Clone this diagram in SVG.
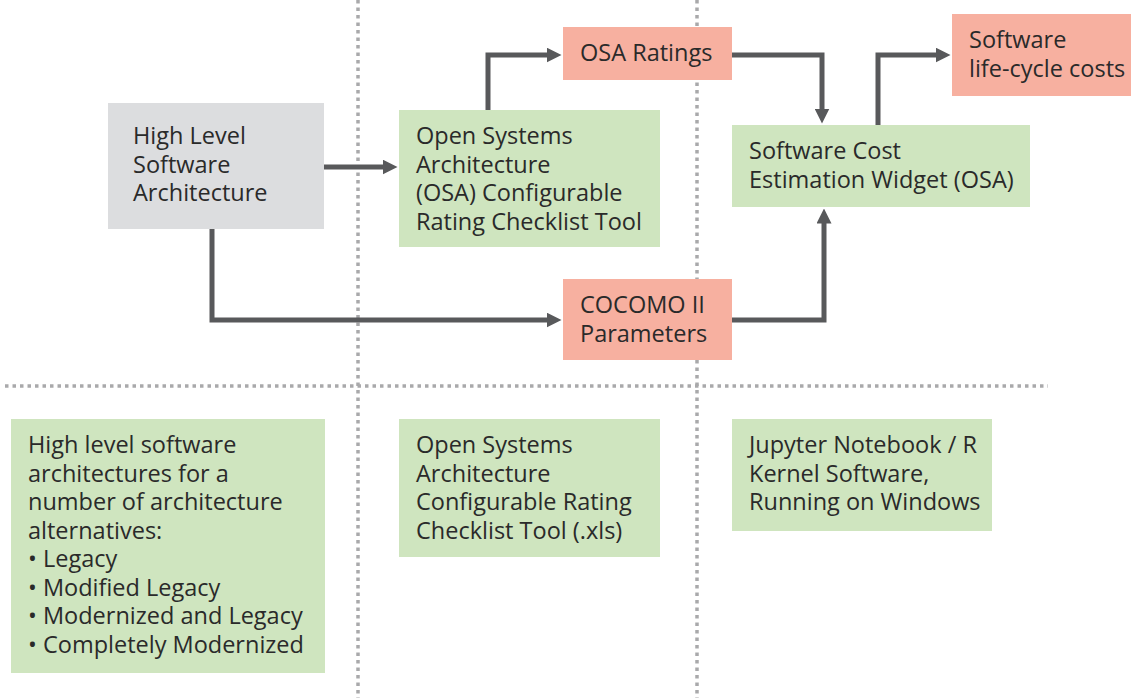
<svg xmlns="http://www.w3.org/2000/svg" width="1132" height="698" viewBox="0 0 1132 698">
  <style>
    .grid { stroke: #a9a9ab; stroke-width: 3.5; stroke-dasharray: 3.5 4; fill: none; }
    .gray { fill: #dcdddf; }
    .green { fill: #cfe5bf; }
    .salmon { fill: #f7b0a0; }
    text { font-family: "Open Sans", "Noto Sans", "Liberation Sans", sans-serif; font-size: 23.5px; fill: #2a2a2a; }
    .link { stroke: #58595b; stroke-width: 5; fill: none; marker-end: url(#arrow); }
  </style>
  <defs>
    <marker id="arrow" viewBox="0 0 10 10" refX="1" refY="5" markerUnits="userSpaceOnUse" markerWidth="15" markerHeight="15" orient="auto">
      <path d="M0,0 L10,5 L0,10 z" fill="#58595b"/>
    </marker>
  </defs>
  <rect width="1132" height="698" fill="#ffffff"/>

  <!-- column and row separators -->
  <g id="grid">
    <line class="grid" x1="358" y1="0" x2="358" y2="698"/>
    <line class="grid" x1="697" y1="0" x2="697" y2="698"/>
    <line class="grid" x1="5" y1="386" x2="1048" y2="386"/>
  </g>

  <!-- connectors -->
  <g id="connectors">
    <path class="link" d="M324,167 H384"/>
    <path class="link" d="M488,110 V55 H548"/>
    <path class="link" d="M732,55 H822 V110"/>
    <path class="link" d="M878,125 V55 H937"/>
    <path class="link" d="M212,229 V320 H548"/>
    <path class="link" d="M732,320 H824 V222"/>
  </g>

  <g id="high-level-architecture">
    <rect class="gray" x="108" y="103" width="216" height="126"/>
    <text x="133" y="144">High Level<tspan x="133" dy="28.5">Software</tspan><tspan x="133" dy="28.5">Architecture</tspan></text>
  </g>

  <g id="osa-checklist-tool">
    <rect class="green" x="399" y="110" width="261" height="137"/>
    <text x="416" y="144">Open Systems<tspan x="416" dy="28.5">Architecture</tspan><tspan x="416" dy="28.5">(OSA) Configurable</tspan><tspan x="416" dy="28.5">Rating Checklist Tool</tspan></text>
  </g>

  <g id="osa-ratings">
    <rect class="salmon" x="563" y="27" width="169" height="53"/>
    <text x="580" y="61">OSA Ratings</text>
  </g>

  <g id="cost-estimation-widget">
    <rect class="green" x="732" y="125" width="298" height="82"/>
    <text x="749" y="159">Software Cost<tspan x="749" dy="28.5">Estimation Widget (OSA)</tspan></text>
  </g>

  <g id="life-cycle-costs">
    <rect class="salmon" x="952" y="14" width="179" height="82"/>
    <text x="969" y="48">Software<tspan x="969" dy="28.5">life-cycle costs</tspan></text>
  </g>

  <g id="cocomo-parameters">
    <rect class="salmon" x="563" y="279" width="169" height="81"/>
    <text x="580" y="313">COCOMO II<tspan x="580" dy="28.5">Parameters</tspan></text>
  </g>

  <g id="architecture-alternatives">
    <rect class="green" x="11" y="419" width="314" height="254"/>
    <text x="28" y="453">High level software<tspan x="28" dy="28.5">architectures for a</tspan><tspan x="28" dy="28.5">number of architecture</tspan><tspan x="28" dy="28.5">alternatives:</tspan><tspan x="28" dy="28.5">• Legacy</tspan><tspan x="28" dy="28.5">• Modified Legacy</tspan><tspan x="28" dy="28.5">• Modernized and Legacy</tspan><tspan x="28" dy="28.5">• Completely Modernized</tspan></text>
  </g>

  <g id="checklist-tool-xls">
    <rect class="green" x="399" y="419" width="261" height="138"/>
    <text x="416" y="453">Open Systems<tspan x="416" dy="28.5">Architecture</tspan><tspan x="416" dy="28.5">Configurable Rating</tspan><tspan x="416" dy="28.5">Checklist Tool (.xls)</tspan></text>
  </g>

  <g id="jupyter-platform">
    <rect class="green" x="732" y="419" width="260" height="112"/>
    <text x="749" y="453">Jupyter Notebook / R<tspan x="749" dy="28.5">Kernel Software,</tspan><tspan x="749" dy="28.5">Running on Windows</tspan></text>
  </g>
</svg>
